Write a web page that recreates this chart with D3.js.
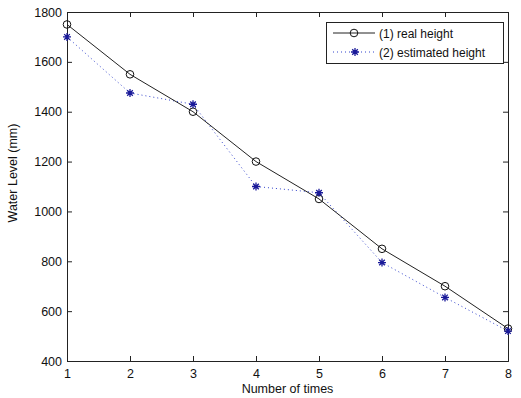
<!DOCTYPE html>
<html><head><meta charset="utf-8">
<script src="https://cdn.jsdelivr.net/npm/d3@7"></script>
<style>body{margin:0;background:#fff}svg{display:block}text{font-family:"Liberation Sans",Arial,sans-serif;fill:#111}</style>
</head><body><svg id="c" width="521" height="398"></svg>
<script>
const times = [1,2,3,4,5,6,7,8];
const realHeight = [1750,1550,1400,1200,1050,850,700,530];
const estHeight = [1700,1475,1430,1100,1075,795,655,520];
const xTicks = [1,2,3,4,5,6,7,8];
const yTicks = [400,600,800,1000,1200,1400,1600,1800];
const seriesNames = ["(1) real height","(2) estimated height"];

const svg = d3.select("#c");
const L=67,R=508,T=12,B=361;
const x = d3.scaleLinear().domain([1,8]).range([L,R]);
const y = d3.scaleLinear().domain([400,1800]).range([B,T]);
const g = svg.append("g");
const fs = "12.5px";

// axes
const ax = g.append("g").attr("transform",`translate(0,${B})`)
  .call(d3.axisBottom(x).tickValues(xTicks).tickSize(-5).tickPadding(8).tickFormat(d3.format("d")));
const axT = g.append("g").attr("transform",`translate(0,${T})`)
  .call(d3.axisTop(x).tickValues(xTicks).tickSize(-5).tickFormat(""));
const ay = g.append("g").attr("transform",`translate(${L},0)`)
  .call(d3.axisLeft(y).tickValues(yTicks).tickSize(-5).tickPadding(5).tickFormat(d3.format("d")));
const ayR = g.append("g").attr("transform",`translate(${R},0)`)
  .call(d3.axisRight(y).tickValues(yTicks).tickSize(-5).tickFormat(""));
[ax,axT,ay,ayR].forEach(a=>{
  a.selectAll("path").attr("stroke","#222").attr("stroke-width",1);
  a.selectAll("line").attr("stroke","#222");
  a.selectAll("text").style("font-size",fs).attr("fill","#111");
});

// lines
const line = d3.line().x((d,i)=>x(times[i])).y(d=>y(d));
g.append("path").datum(estHeight).attr("d",line).attr("fill","none")
  .attr("stroke","#3344cc").attr("stroke-width",1).attr("stroke-dasharray","1,3");
g.append("path").datum(realHeight).attr("d",line).attr("fill","none")
  .attr("stroke","#222").attr("stroke-width",1);

function star(sel,cx,cy,s){
  const p = `M${cx-s},${cy}L${cx+s},${cy}M${cx},${cy-s}L${cx},${cy+s}`+
    `M${cx-s*0.7},${cy-s*0.7}L${cx+s*0.7},${cy+s*0.7}M${cx-s*0.7},${cy+s*0.7}L${cx+s*0.7},${cy-s*0.7}`;
  sel.append("path").attr("d",p).attr("stroke","#1a1a99").attr("stroke-width",1.3).attr("fill","none");
}
realHeight.forEach((v,i)=>{
  g.append("circle").attr("cx",x(times[i])).attr("cy",y(v)).attr("r",3.8)
   .attr("fill","none").attr("stroke","#111").attr("stroke-width",1);
});
estHeight.forEach((v,i)=>star(g,x(times[i]),y(v),4));

// labels
g.append("text").attr("x",(L+R)/2).attr("y",393).attr("text-anchor","middle").style("font-size",fs).text("Number of times");
g.append("text").attr("transform","translate(17,173) rotate(-90)").attr("text-anchor","middle").style("font-size",fs).text("Water Level (mm)");

// legend
const lg = g.append("g");
lg.append("rect").attr("x",326.5).attr("y",22.5).attr("width",177).attr("height",41)
  .attr("fill","#fff").attr("stroke","#222");
lg.append("line").attr("x1",333).attr("x2",375).attr("y1",33).attr("y2",33).attr("stroke","#222");
lg.append("circle").attr("cx",354).attr("cy",33).attr("r",3.8).attr("fill","none").attr("stroke","#111");
lg.append("line").attr("x1",333).attr("x2",375).attr("y1",52).attr("y2",52)
  .attr("stroke","#3344cc").attr("stroke-dasharray","1,3");
star(lg,355,52,4);
lg.append("text").attr("x",379).attr("y",37.5).style("font-size","12px").text(seriesNames[0]);
lg.append("text").attr("x",379).attr("y",56.5).style("font-size","12px").text(seriesNames[1]);
</script></body></html>
